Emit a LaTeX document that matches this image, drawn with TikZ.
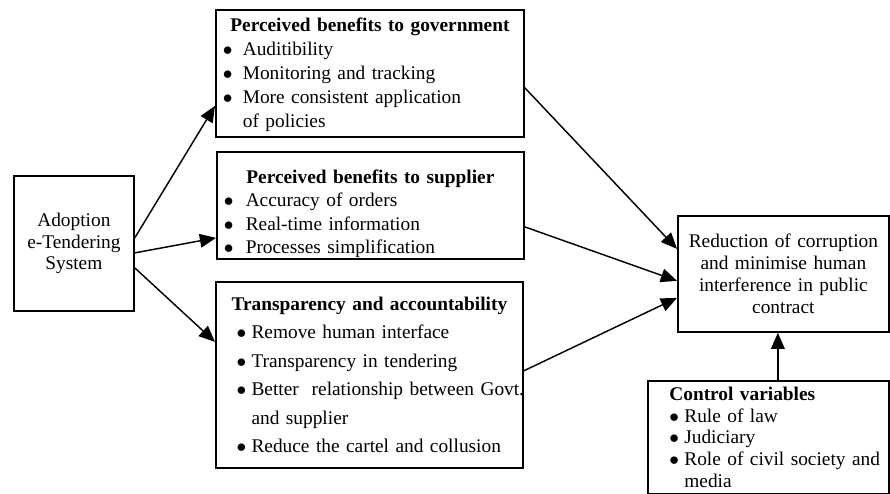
\documentclass[tikz,border=0pt]{standalone}
\usepackage{fontspec}
\setmainfont{Liberation Serif}
\usetikzlibrary{arrows.meta, calc, positioning}
\tikzstyle{block} = [rectangle, draw, line width=1.1pt, fill=white,
    inner xsep=4.3pt, inner ysep=0pt, anchor=north west, align=left]
\tikzstyle{line} = [draw, line width=0.9pt, -{Triangle[length=10pt, width=8.5pt]}]
\newcommand{\bul}[1]{\makebox[#1][l]{$\bullet$}}

\begin{document}
\begin{tikzpicture}[x=0.62pt, y=-0.62pt]
    \useasboundingbox (0,0) rectangle (890,494);
    % Nodes
    \node[block, align=center, text width=65.8pt, minimum height=83.7pt,
          font=\fontsize{12}{13.4}\selectfont] (adopt) at (13,175)
          {Adoption\\ e-Tendering\\ System};
    \node[block, text width=182.4pt, minimum height=78.7pt,
          font=\fontsize{12}{14.9}\selectfont] (gov) at (215,9) {%
        {\centering\bfseries\rule{0pt}{10pt}Perceived benefits to government\par}
        \bul{12.4pt}Auditibility\par
        \bul{12.4pt}Monitoring and tracking\par
        \bul{12.4pt}More consistent application\par
        \hspace*{12.4pt}of policies\par};
    \node[block, text width=181.7pt, minimum height=66.3pt,
          font=\fontsize{12}{14.6}\selectfont] (supp) at (216,151) {%
        {\centering\bfseries\rule{0pt}{19pt}Perceived benefits to supplier\par}
        \bul{13.6pt}Accuracy of orders\par
        \bul{13.6pt}Real-time information\par
        \bul{13.6pt}Processes simplification\par};
    \node[block, text width=181.7pt, minimum height=115.3pt,
          font=\fontsize{12}{17.6}\selectfont] (trans) at (215,281) {%
        {\centering\bfseries Transparency and accountability\par}
        \leftskip=8.5pt
        \bul{9.3pt}Remove human interface\par
        \bul{9.3pt}Transparency in tendering\par
        \bul{9.3pt}\mbox{Better\ \ relationship between Govt.}\par
        \hspace*{9.3pt}and supplier\par
        \bul{9.3pt}Reduce the cartel and collusion\par};
    \node[block, align=center, text width=122.2pt, minimum height=71.9pt,
          font=\fontsize{12}{13.5}\selectfont] (result) at (677,215)
          {Reduction of corruption\\ and minimise human\\ interference in public\\ contract};
    \node[block, text width=140.8pt, minimum height=70pt,
          font=\fontsize{12}{13.5}\selectfont] (control) at (647,380) {%
        \leftskip=9pt
        \textbf{Control variables}\par
        \bul{9.3pt}Rule of law\par
        \bul{9.3pt}Judiciary\par
        \bul{9.3pt}Role of civil society and\par
        \hspace*{9.3pt}media\par};
    \coordinate (cv) at ($(control.north)+(9.5,0)$);

    % Edges
    \path[line] ($(adopt.east)+(0,-5.5)$) -- ($(gov.west)+(0,32.5)$);
    \path[line] ($(adopt.east)+(0,9.5)$) -- ($(supp.west)+(0,32.5)$);
    \path[line] ($(adopt.east)+(0,24.5)$) -- ($(trans.west)+(0,-33)$);
    \path[line] ($(gov.east)+(0,14.5)$) -- ($(result.west)+(0,-25)$);
    \path[line] ($(supp.east)+(0,21.5)$) -- ($(result.west)+(0,7)$);
    \path[line] ($(trans.east)+(0,-4)$) -- ($(result.west)+(0,24)$);
    \path[line] (cv) -- (cv |- result.south);
\end{tikzpicture}
\end{document}
